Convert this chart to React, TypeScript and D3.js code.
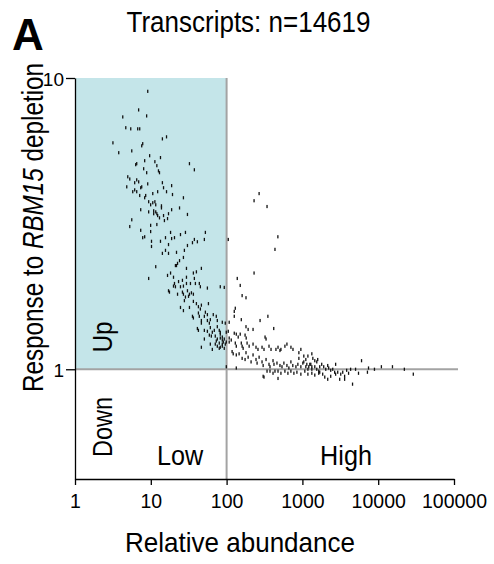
import React, { useRef, useEffect } from 'react';
import * as d3 from 'd3';

// Transcripts: [relative abundance, response to RBM15 depletion]
const lowAbundancePoints: [number, number][] = [
  [9.1, 9.0], [6.9, 7.77], [8.8, 7.41], [4.26, 7.35], [4.67, 6.75], [5.43, 6.69], [6.71, 6.69], [7.13, 6.69], [14.2, 6.18], [16.1, 6.28],
  [3.16, 5.99], [7.81, 5.95], [7.58, 5.85], [3.77, 5.54], [5.6, 5.62], [9.64, 5.41], [8.29, 5.2], [11.3, 5.16], [13.4, 5.33], [6.31, 5.04],
  [6.51, 5.08], [12.0, 5.0], [8.04, 4.88], [8.81, 4.73], [12.6, 4.8], [13.0, 4.73], [32.3, 5.08], [37.5, 4.84], [4.96, 4.58], [5.27, 4.5],
  [6.12, 4.37], [6.51, 4.47], [6.91, 4.4], [7.35, 4.2], [7.58, 4.23], [9.09, 4.33], [14.2, 4.37], [14.7, 4.2], [18.8, 4.27], [4.81, 4.23],
  [5.77, 4.07], [6.12, 4.13], [6.51, 4.07], [7.13, 3.95], [8.29, 3.88], [8.55, 3.95], [10.6, 4.01], [12.3, 4.07], [16.1, 4.07], [19.3, 3.98],
  [26.9, 3.88], [9.36, 3.76], [9.94, 3.67], [10.6, 3.73], [11.3, 3.76], [11.6, 3.67], [13.8, 3.64], [13.8, 3.58], [7.35, 3.53], [9.36, 3.47],
  [10.9, 3.5], [11.6, 3.47], [10.9, 3.42], [12.0, 3.42], [12.3, 3.37], [13.0, 3.31], [14.7, 3.37], [15.1, 3.24], [16.6, 3.29], [17.1, 3.42],
  [18.8, 3.53], [23.9, 3.58], [30.4, 3.4], [5.6, 3.26], [5.27, 3.09], [9.94, 3.12], [9.94, 2.97], [12.0, 3.14], [7.35, 3.0], [8.29, 2.85],
  [7.81, 2.83], [18.2, 2.95], [15.6, 2.83], [18.8, 2.81], [20.5, 2.83], [24.6, 2.9], [28.6, 2.95], [52.4, 2.95], [10.2, 2.75], [10.2, 2.64],
  [13.4, 2.75], [17.1, 2.68], [15.6, 2.56], [14.2, 2.5], [17.1, 2.5], [21.8, 2.52], [27.7, 2.56], [30.4, 2.66], [35.4, 2.72], [37.5, 2.79],
  [41.1, 2.74], [50.8, 2.79], [26.9, 2.42], [23.9, 2.36], [22.5, 2.31], [21.8, 2.27], [21.1, 2.27], [11.6, 2.25], [29.5, 2.22], [39.9, 2.16],
  [36.4, 2.14], [46.4, 2.22], [16.6, 2.1], [19.9, 2.07], [29.5, 2.07], [37.5, 2.05], [9.36, 2.05], [20.5, 1.97], [23.2, 2.0], [26.1, 2.02],
  [29.5, 1.97], [33.3, 1.97], [38.7, 1.97], [43.6, 1.97], [18.2, 2.14], [17.1, 1.86],
  [19.9, 1.93], [21.1, 1.92], [24.6, 1.92], [26.9, 1.93], [45.0, 1.92], [17.6, 1.84], [22.5, 1.81], [26.1, 1.84], [26.9, 1.81], [27.7, 1.72],
  [28.6, 1.77], [30.4, 1.86], [32.3, 1.81], [31.4, 1.78], [34.3, 1.83], [36.4, 1.81], [55.7, 1.9], [82.4, 1.92], [93.0, 1.91],
  [24.6, 1.63], [26.9, 1.59], [32.3, 1.63], [36.4, 1.71], [39.9, 1.68], [42.4, 1.64], [46.4, 1.66], [45.0, 1.61], [57.5, 1.68],
  [35.4, 1.52], [36.4, 1.5], [42.4, 1.56], [43.6, 1.52], [50.8, 1.52], [52.4, 1.57], [55.7, 1.54], [46.4, 1.47], [46.4, 1.44], [55.7, 1.47],
  [59.1, 1.44], [60.9, 1.48], [66.6, 1.54], [73.0, 1.52], [75.3, 1.47], [87.6, 1.45],
  [41.1, 1.38], [42.4, 1.36], [50.8, 1.36], [55.7, 1.35], [60.9, 1.39], [64.7, 1.34], [68.7, 1.36], [75.3, 1.4], [79.9, 1.36], [82.4, 1.34],
  [95.9, 1.44], [98.9, 1.34], [82.4, 1.32], [87.6, 1.29],
  [50.8, 1.27], [59.1, 1.31], [62.8, 1.3], [70.8, 1.3], [73.0, 1.25], [75.3, 1.27], [79.9, 1.23], [82.4, 1.28], [87.6, 1.26], [90.3, 1.24],
  [93.0, 1.27], [98.9, 1.24], [87.6, 1.22],
  [46.4, 1.19], [60.9, 1.22], [64.7, 1.17], [70.8, 1.22], [75.3, 1.2], [79.9, 1.18], [82.4, 1.19], [87.6, 1.2], [93.0, 1.18], [95.9, 1.22],
  [99, 1.02],
];

const highAbundancePoints: [number, number][] = [
  [105, 2.79], [268, 4.01], [230, 3.79], [341, 3.62], [474, 2.85], [434, 2.58], [230, 2.14], [138, 2.05], [151, 1.94],
  [108, 1.24], [108, 1.45],
  [160, 1.79], [180, 1.76], [130, 1.62], [126, 1.58], [126, 1.52], [276, 1.47], [350, 1.52], [156, 1.48], [418, 1.38], [180, 1.4],
  [192, 1.37], [223, 1.37],
  [105, 1.35], [126, 1.33], [134, 1.32], [142, 1.29], [151, 1.32], [175, 1.31], [181, 1.28], [321, 1.29], [331, 1.27], [108, 1.28], [115, 1.26],
  [130, 1.23], [134, 1.2], [156, 1.23], [160, 1.2], [165, 1.18], [186, 1.23], [198, 1.2], [223, 1.22], [244, 1.19], [259, 1.17],
  [293, 1.19], [311, 1.17], [362, 1.2], [385, 1.17], [447, 1.17], [476, 1.19], [520, 1.17], [587, 1.2], [624, 1.22], [705, 1.19],
  [750, 1.17], [897, 1.14], [953, 1.17], [1180, 1.11], [1330, 1.13], [1455, 1.07], [1590, 1.08],
  [118, 1.15], [122, 1.13], [134, 1.12], [146, 1.13], [160, 1.09], [175, 1.08], [180, 1.14], [192, 1.1], [210, 1.06], [223, 1.12],
  [244, 1.08], [252, 1.05], [268, 1.1], [293, 1.06], [303, 1.03], [331, 1.08], [362, 1.04], [373, 1.02], [409, 1.07], [421, 1.04],
  [461, 1.05], [505, 1.03], [537, 1.02], [569, 1.05], [624, 1.03], [662, 1.01], [704, 1.06], [746, 1.03], [820, 1.02], [870, 1.04],
  [953, 1.02], [1011, 1.05], [1108, 1.02], [1180, 1.0], [1250, 1.04], [1330, 1.02], [1455, 1.02], [1545, 1.0], [1640, 0.985],
  [341, 0.985], [311, 0.94], [373, 0.985], [409, 0.969], [434, 0.985], [476, 0.985], [520, 0.969], [587, 0.985], [643, 0.969], [704, 0.985],
  [771, 0.969], [845, 0.977], [953, 0.962], [1075, 0.985], [1180, 0.962], [1330, 0.969], [1455, 0.955], [1640, 0.969], [134, 1.01],
  [505, 1.16], [897, 1.09], [1042, 1.11], [1108, 1.08], [1042, 1.06], [1142, 1.04], [1212, 1.02], [1289, 1.04], [1330, 1.0], [1371, 1.09],
  [1545, 1.06], [1690, 1.02], [1795, 1.04], [1908, 1.02], [2030, 1.0], [2155, 1.03], [2220, 1.01], [2360, 0.992], [2510, 1.0], [2740, 1.04],
  [2660, 0.977], [2740, 0.962], [2920, 0.977], [3200, 0.962], [3400, 0.977], [3600, 0.946], [3830, 0.992], [4060, 0.969], [4320, 1.0],
  [1690, 0.977], [1850, 0.962], [1970, 0.94], [2155, 0.924], [2360, 0.946], [3100, 0.924], [3600, 0.924], [4580, 0.889], [5020, 1.0],
  [5490, 0.969], [6020, 1.07], [7200, 0.977], [7440, 1.01], [8910, 1.0], [11000, 1.02], [15400, 1.02], [22100, 1.0], [29000, 0.962],
  [303, 0.946], [476, 0.93],
];

const xTicks = [1, 10, 100, 1000, 10000, 100000];
const yTicks = [1, 10];
const xDomain = [1, 100000];
const yDomain = [0.42, 10];
const abundanceCutoff = 100;
const responseCutoff = 1;
const upperResponse = 10;

const FONT = '"Liberation Sans", Arial, Helvetica, sans-serif';

const App = () => {
  const svgRef = useRef<SVGSVGElement>(null);

  useEffect(() => {
    if (!svgRef.current) return;
    const svg = d3.select(svgRef.current);
    svg.selectAll('*').remove();

    const x = d3.scaleLog().domain(xDomain).range([75, 454]);
    const y = d3.scaleLog().domain(yDomain).range([479, 78]);

    // "Up" quadrant shading
    svg.append('rect')
      .attr('x', x(xDomain[0])).attr('y', y(upperResponse))
      .attr('width', x(abundanceCutoff) - x(xDomain[0]))
      .attr('height', y(responseCutoff) - y(upperResponse))
      .attr('fill', '#c4e5e9');

    // threshold lines
    svg.append('line')
      .attr('x1', x(abundanceCutoff)).attr('x2', x(abundanceCutoff))
      .attr('y1', y(upperResponse)).attr('y2', y(yDomain[0]))
      .attr('stroke', '#a3a3a3').attr('stroke-width', 2);
    svg.append('line')
      .attr('x1', x(xDomain[0])).attr('x2', x(xDomain[1]) + 4)
      .attr('y1', y(responseCutoff)).attr('y2', y(responseCutoff))
      .attr('stroke', '#a3a3a3').attr('stroke-width', 2.2);

    // points: tiny vertical dashes
    const all = [...lowAbundancePoints, ...highAbundancePoints];
    svg.append('g').selectAll('rect').data(all).enter().append('rect')
      .attr('x', d => x(d[0]) - 0.6).attr('y', d => y(d[1]) - 1.6)
      .attr('width', 1.3).attr('height', 3.2)
      .attr('fill', '#111');

    // axes
    svg.append('g').attr('transform', `translate(0,${y(yDomain[0])})`)
      .call(d3.axisBottom(x).tickValues(xTicks).tickFormat(d3.format('d')).tickSize(6).tickSizeOuter(0).tickPadding(9))
      .call(s => s.select('.domain').attr('stroke', '#000').attr('stroke-width', 1.3))
      .call(s => s.selectAll('.tick line').attr('stroke', '#000').attr('stroke-width', 1.3))
      .call(s => s.selectAll('.tick text').attr('fill', '#000').attr('font-size', 19.5).attr('font-family', FONT));

    svg.append('g').attr('transform', `translate(${x(xDomain[0])},0)`)
      .call(d3.axisLeft(y).tickValues(yTicks).tickFormat(d3.format('d')).tickSize(9).tickSizeOuter(0).tickPadding(2))
      .call(s => s.select('.domain').attr('stroke', '#000').attr('stroke-width', 1.3))
      .call(s => s.selectAll('.tick line').attr('stroke', '#000').attr('stroke-width', 1.3))
      .call(s => s.selectAll('.tick text').attr('fill', '#000').attr('font-size', 19).attr('font-family', FONT).attr('dy', '0.4em'));

    // text helper: condensed text via horizontal scale
    const label = (txt: string, tx: number, ty: number, size: number, sx: number, rot = 0, weight = 'normal', anchor = 'middle') =>
      svg.append('text')
        .attr('transform', `translate(${tx},${ty}) rotate(${rot}) scale(${sx},1)`)
        .attr('text-anchor', anchor)
        .attr('font-family', FONT).attr('font-size', size).attr('font-weight', weight)
        .attr('fill', '#000')
        .text(txt);

    label('A', 12, 50, 44, 1, 0, 'bold', 'start');
    label('Transcripts: n=14619', 248.5, 32, 29, 0.897);
    label('Relative abundance', 240, 552, 28, 0.93);
    label('Low', 180, 465, 28, 0.9);
    label('High', 346, 465, 28, 0.9);
    label('Up', 112, 337, 28, 0.87, -90);
    label('Down', 112, 427, 28, 0.84, -90);

    const yl = svg.append('text')
      .attr('transform', `translate(43,227.5) rotate(-90) scale(0.837,1)`)
      .attr('text-anchor', 'middle')
      .attr('font-family', FONT).attr('font-size', 29).attr('fill', '#000');
    yl.append('tspan').text('Response to ');
    yl.append('tspan').attr('font-style', 'italic').text('RBM15');
    yl.append('tspan').text(' depletion');
  }, []);

  return (
    <svg ref={svgRef} width={494} height={564}
      style={{ position: 'absolute', left: 0, top: 0, background: '#fff' }} />
  );
};

export default App;
